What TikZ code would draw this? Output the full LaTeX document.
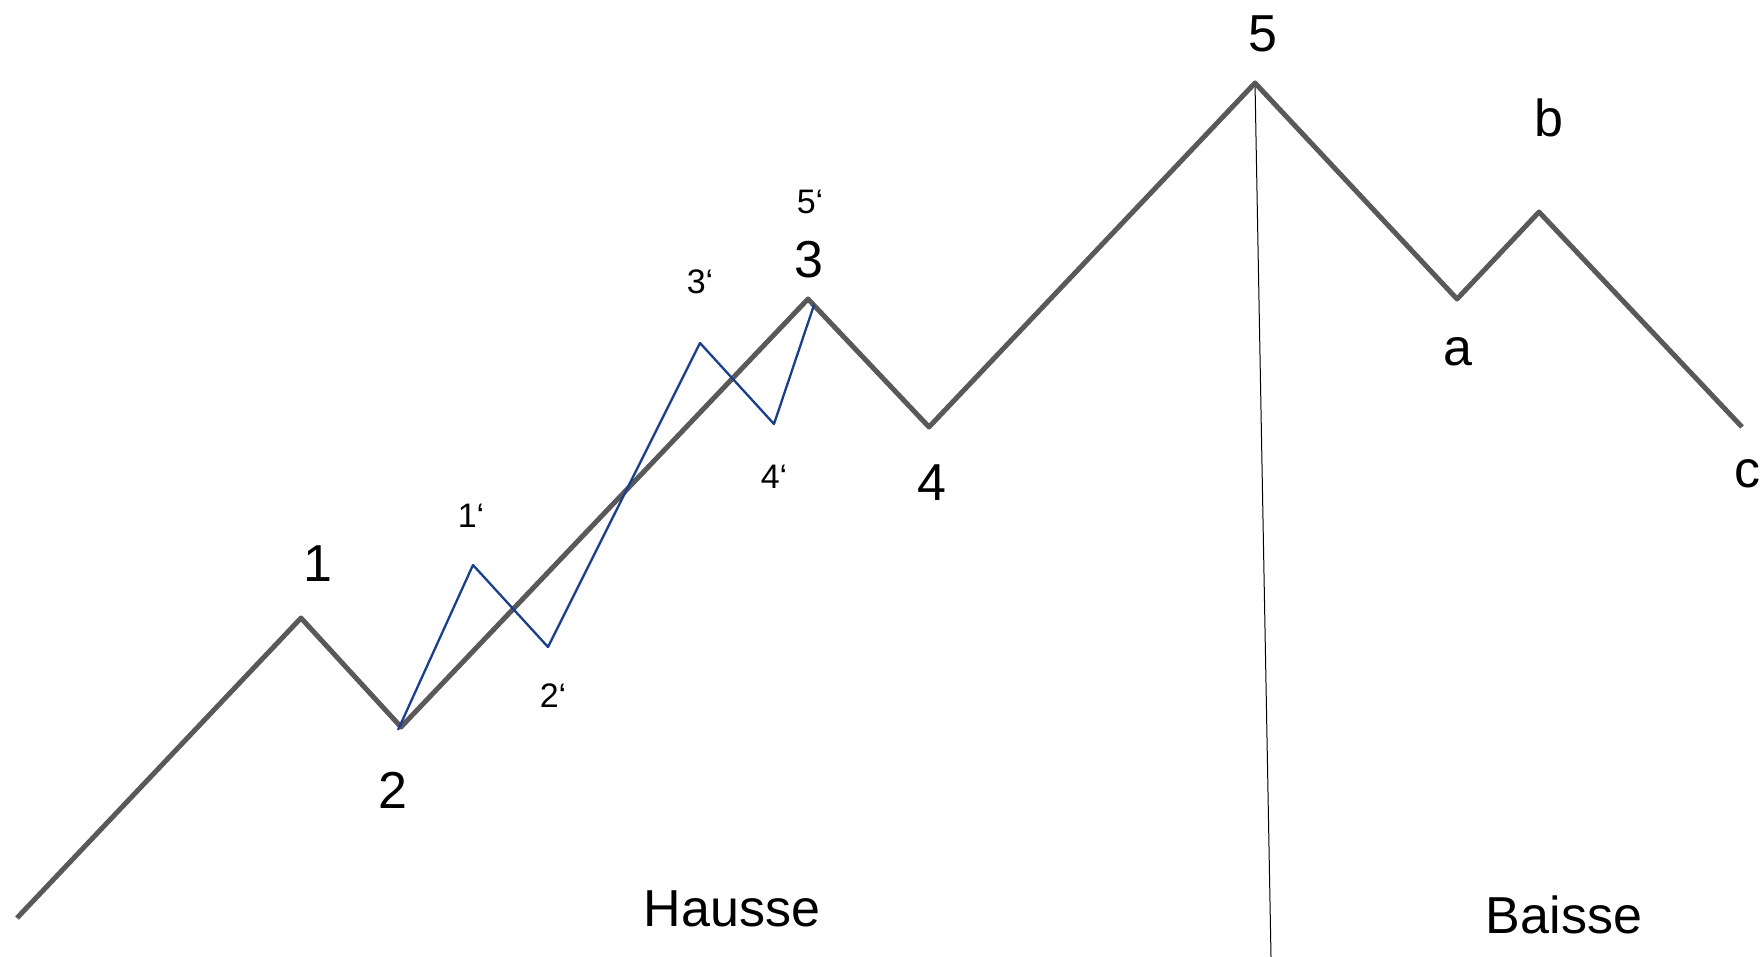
\documentclass[tikz,border=0pt]{standalone}
\usepackage{fontspec}
\setmainfont{Liberation Sans}
\definecolor{wavegray}{RGB}{89,89,89}
\definecolor{waveblue}{RGB}{24,62,140}
\begin{document}
\begin{tikzpicture}[x=1pt, y=-1pt,
    wave/.style={draw=wavegray, line width=5pt, line join=round},
    subwave/.style={draw=waveblue, line width=2.3pt, line join=round},
    bigl/.style={inner sep=0pt, font=\fontsize{52}{60}\selectfont},
    smalll/.style={inner sep=0pt, font=\fontsize{34}{40}\selectfont}]
  \useasboundingbox (0,0) rectangle (1760,957);

  % main wave
  \coordinate (W0) at (17,918);
  \coordinate (W1) at (301,618);
  \coordinate (W2) at (401,727);
  \coordinate (W3) at (808,299);
  \coordinate (W4) at (929,427);
  \coordinate (W5) at (1255,83);
  \coordinate (Wa) at (1457,299);
  \coordinate (Wb) at (1539,212);
  \coordinate (Wc) at (1742,427);
  \coordinate (Bot) at (1271,957);

  % sub wave
  \coordinate (S0) at (398,730);
  \coordinate (S1) at (473,565);
  \coordinate (S2) at (548,647);
  \coordinate (S3) at (700,343);
  \coordinate (S4) at (774,424);
  \coordinate (S5) at (814,305);

  \draw[black, line width=1pt] (W5) -- (Bot);
  \draw[wave] (W0) -- (W1) -- (W2) -- (W3) -- (W4) -- (W5) -- (Wa) -- (Wb) -- (Wc);
  \draw[subwave] (S0) -- (S1) -- (S2) -- (S3) -- (S4) -- (S5);

  \node[bigl] (L1) at (318,564) {1};
  \node[bigl] (L2) at (393,790) {2};
  \node[bigl] (L3) at (809,260) {3};
  \node[bigl] (L4) at (932,483) {4};
  \node[bigl] (L5) at (1263,34) {5};
  \node[bigl] (La) at (1458,352) {a};
  \node[bigl] (Lb) at (1549,118) {b};
  \node[bigl] (Lc) at (1747,474) {c};

  \node[smalll] (M1) at (471,516) {1‘};
  \node[smalll] (M2) at (553,696) {2‘};
  \node[smalll] (M3) at (700,282) {3‘};
  \node[smalll] (M4) at (774,477) {4‘};
  \node[smalll] (M5) at (810,202) {5‘};

  \node[bigl] (Hausse) at (732,909) {Hausse};
  \node[bigl] (Baisse) at (1564,915) {Baisse};
\end{tikzpicture}
\end{document}
